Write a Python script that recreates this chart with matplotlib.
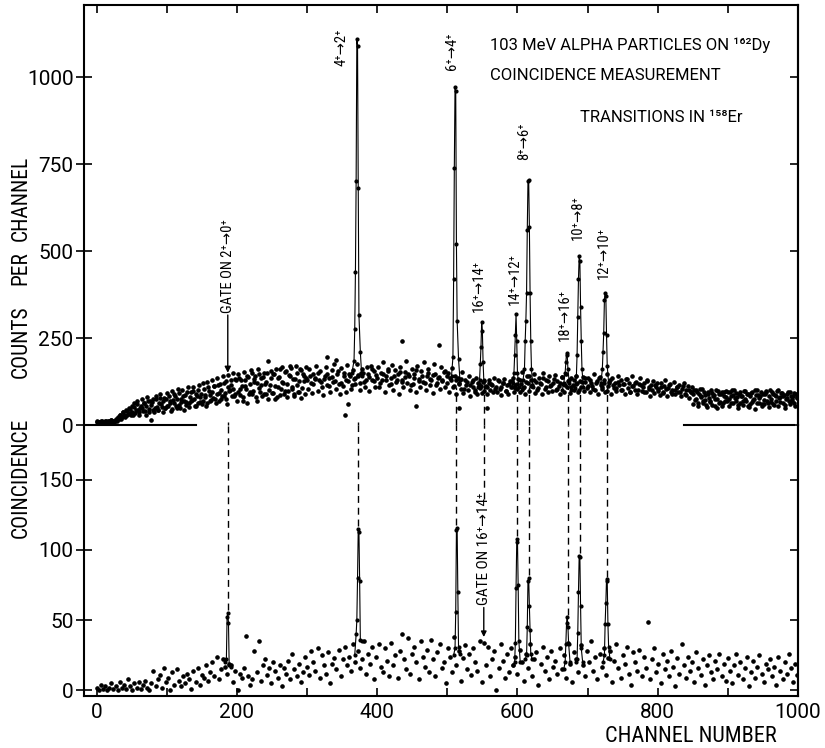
import numpy as np
import matplotlib
matplotlib.use('Agg')
import matplotlib.pyplot as plt

# ---------------- data ----------------
# top panel background, odd channels 1,3,5,...,999
top_bg_odd = [
    11,9,10,12,8,10,11,9,12,10,14,11,9,16,12,24,30,18,36,28,22,40,32,46,30,
    38,52,34,60,44,30,56,48,64,40,54,70,36,58,66,44,50,74,42,62,78,52,68,48,76,
    54,82,64,46,72,88,56,76,92,50,66,84,70,58,94,62,80,68,98,74,56,84,100,66,90,
    70,104,80,62,108,86,72,96,112,76,88,116,68,100,84,120,92,74,110,98,128,82,104,90,130,
    94,136,86,112,70,128,104,142,90,118,150,98,132,80,122,146,96,114,138,88,124,150,76,116,134,
    92,148,112,80,136,160,104,124,88,152,118,98,140,164,110,84,132,150,96,126,158,106,142,90,136,
    104,162,120,92,146,132,170,98,128,154,110,86,140,168,116,134,96,158,124,176,104,146,118,90,164,
    112,150,96,172,126,142,104,158,132,118,176,140,100,150,160,124,110,166,146,98,170,128,154,110,144,
    166,108,150,128,180,96,142,160,114,136,172,102,158,124,146,90,168,130,110,152,184,120,140,100,162,
    118,146,96,170,132,108,156,124,180,100,140,162,114,130,92,174,148,120,136,104,166,126,152,110,140,
    150,96,128,164,112,140,88,136,120,104,152,92,130,116,100,142,84,124,110,96,134,88,118,106,92,
    124,98,112,88,130,102,118,94,136,110,96,126,104,86,120,132,98,114,90,126,108,134,96,116,104,
    132,96,118,152,108,88,140,122,98,130,114,146,92,124,106,136,118,88,150,104,128,96,140,112,98,
    120,144,100,126,112,90,138,118,96,146,108,128,92,134,114,100,142,120,94,126,110,138,98,124,106,
    134,96,120,112,148,100,126,90,138,116,104,130,94,146,112,124,88,136,106,120,98,142,114,128,100,
    118,90,132,106,120,96,140,112,100,124,88,118,136,98,110,122,94,130,104,84,116,126,92,110,120,
    104,86,120,96,112,130,82,106,118,94,100,124,88,110,96,116,84,104,120,90,100,112,78,96,108,
    88,72,100,64,90,80,104,70,86,58,96,78,68,92,84,56,100,76,88,66,94,62,82,98,70,
    76,96,62,86,100,70,80,58,94,84,68,98,74,88,56,82,92,66,76,100,64,86,78,94,60,
    72,88,98,64,82,74,94,60,86,70,100,78,66,92,84,58,76,90,68,96,74,82,62,88,78,
]
# top panel background, even channels 0,2,...,298
top_bg_left = [
    8,10,9,11,10,9,12,10,11,9,13,12,10,11,14,20,16,30,22,36,26,44,30,50,34,
    56,30,64,42,70,36,48,76,40,62,28,80,46,68,15,74,38,84,52,44,88,60,36,78,50,
    92,54,70,40,98,62,84,48,104,58,76,100,44,86,66,108,52,94,72,110,56,90,64,116,80,
    60,120,86,54,124,98,70,130,78,112,64,136,92,118,74,140,84,126,60,144,100,116,150,82,132,
    70,146,104,128,80,152,112,64,138,96,158,88,124,142,70,160,106,134,84,150,118,90,185,100,156,
    92,148,76,162,110,138,86,166,120,98,154,80,144,170,104,132,88,170,116,96,160,78,148,126,168,
]
# top panel background, channels 300,304,...,848
top_bg_mid = [
    128,142,118,136,150,124,132,146,112,138,126,154,120,140,130,148,116,134,144,122,150,128,138,160,126,
    136,120,148,130,156,118,142,128,152,124,138,146,114,134,158,126,140,122,150,132,144,116,138,128,154,
    122,136,110,128,118,132,104,124,114,130,100,120,112,126,108,122,116,104,128,110,120,98,118,126,106,
    118,130,106,124,140,112,128,100,122,136,110,126,116,132,104,120,138,114,126,108,130,118,102,124,134,
    112,128,104,122,136,110,120,98,130,116,106,124,100,118,132,94,112,122,102,116,96,126,108,100,114,
    98,110,92,104,116,88,100,108,94,112,86,102,96,
]
# top panel background, even channels 850,852,...,998
top_bg_right = [
    60,100,76,94,56,104,84,62,96,72,52,90,66,102,58,86,74,48,98,64,90,56,94,70,80,
    96,54,82,100,62,78,92,50,90,64,84,58,98,68,88,52,60,94,72,46,86,100,62,82,56,
    88,60,96,70,52,100,66,90,58,82,98,54,80,92,64,86,50,78,96,60,84,70,92,56,80,
]
# isolated outlying points of the top panel
top_outlier_channels = [328, 342, 354, 358, 436, 456, 488, 516, 556]
top_outlier_counts = [196, 186, 30, 60, 240, 55, 230, 50, 48]

# bottom panel background counts, channels 0,3,6,...,999
bot_bg = [
    2,0,4,1,3,0,2,5,1,3,0,6,2,4,1,8,3,0,5,2,
    6,1,4,7,2,0,5,14,3,8,11,2,16,6,9,0,13,4,15,7,
    3,10,5,12,8,1,14,6,16,4,11,9,18,7,13,20,10,24,8,15,
    22,17,12,19,18,6,14,0,12,9,16,39,10,4,8,28,13,35,7,18,
    22,11,16,5,20,14,9,18,3,16,12,21,8,26,15,10,19,6,13,24,
    17,11,28,20,14,30,9,25,18,12,27,5,19,23,15,29,10,22,31,18,
    24,14,33,20,28,16,22,35,12,26,19,31,8,24,33,17,13,30,21,10,
    34,18,25,9,28,40,22,15,37,12,26,31,20,8,35,24,17,29,13,36,
    22,10,27,33,16,20,5,30,24,13,38,18,28,7,23,32,15,26,11,30,
    20,14,35,6,34,18,31,10,22,28,0,16,33,21,9,26,13,30,18,24,
    12,29,20,7,26,16,33,10,22,27,4,19,31,14,24,8,28,17,21,12,
    30,15,25,9,34,19,6,27,22,13,32,18,10,28,20,35,14,24,8,26,
    17,30,11,23,28,6,21,33,16,9,25,19,31,12,4,27,20,14,29,10,
    24,16,49,8,22,30,13,19,5,26,15,21,10,28,17,3,23,12,33,18,
    9,24,14,20,6,27,16,11,22,4,18,25,13,8,21,15,26,10,19,7,
    23,14,5,18,26,11,20,8,16,24,3,13,21,9,17,25,12,6,19,15,
    22,10,17,4,24,14,8,20,12,26,16,6,19,11,
]

top_peak_channels = [
    [364,367,368,369,370,371,372,373,374,376,378],
    [506,508,509,510,511,512,513,514,516,518],
    [544,546,547,548,549,550,551,552,554],
    [592,594,595,596,597,598,599,600,602],
    [606,608,610,611,612,613,614,615,616,617,618,619,620,622],
    [664,666,668,669,670,671,672,674,676],
    [682,684,685,686,687,688,689,690,691,692,694],
    [719,721,722,723,724,725,726,727,728,730],
]
top_peak_counts = [
    [150,185,275,440,700,1110,1090,680,315,210,140],
    [140,195,420,740,970,960,520,300,190,130],
    [110,130,175,225,296,270,180,130,110],
    [110,120,150,200,260,318,240,150,110],
    [100,130,160,240,300,380,560,700,705,570,380,240,160,110],
    [100,120,150,180,207,200,160,120,100],
    [105,140,200,310,420,485,470,340,240,160,110],
    [120,160,210,265,360,380,370,260,170,120],
]
top_peak_labels = ['4⁺→2⁺', '6⁺→4⁺', '16⁺→14⁺', '14⁺→12⁺', '8⁺→6⁺',
                   '18⁺→16⁺', '10⁺→8⁺', '12⁺→10⁺']

bot_peak_channels = [
    [183,185,186,187,188,189,191],
    [368,370,371,372,373,374,375,376,378],
    [509,511,512,513,514,515,516,518],
    [594,596,597,598,599,600,601,602,604],
    [611,613,614,615,616,617,618,619,621],
    [666,668,669,670,671,672,673,675],
    [683,685,686,687,688,689,690,691,693],
    [722,724,725,726,727,728,729,730,732],
]
bot_peak_counts = [
    [20,22,52,55,48,18,17],
    [25,40,50,80,115,113,78,36,35],
    [25,30,56,114,116,70,31,26],
    [18,20,34,73,106,108,75,35,20],
    [22,25,45,78,80,60,43,26,22],
    [15,20,33,48,52,45,33,20],
    [20,22,41,70,96,95,60,30,20],
    [20,25,47,62,79,78,47,31,22],
]

gate_channels = [187, 373, 513, 552, 599, 616, 672, 689, 727]
gate_top_start = [8, 8, 110, 110, 110, 110, 110, 110, 110]
gate_bot_end = [57, 117, 118, 136, 110, 82, 54, 98, 81]

ylabel_words = ['CHANNEL', 'PER', 'COUNTS', 'COINCIDENCE']

# ---------------- layout ----------------
REG = ['Roboto', 'DejaVu Sans']
COND = ['Roboto Condensed', 'DejaVu Sans']
plt.rcParams['font.family'] = REG

W, H = 825, 748
fig = plt.figure(figsize=(W/100, H/100), dpi=100)
left, right = 84/W, 798/W
y_mid = 1 - 425/H
ax_bot = fig.add_axes([left, 1 - 696/H, right - left, y_mid - (1 - 696/H)])
ax_top = fig.add_axes([left, y_mid, right - left, (1 - 5/H) - y_mid], sharex=ax_bot)

XLIM = (-18, 995)
TOP_YLIM = (0, 1207)
BOT_YLIM = (-4, 189)

dots = dict(ls='none', marker='o', ms=2.3, color='k', mec='k')
lk = dict(color='k', lw=0.8, marker='o', ms=2.0)

ax_top.plot(2*np.arange(len(top_bg_odd)) + 1, top_bg_odd, **dots)
ax_top.plot(2*np.arange(len(top_bg_left)), top_bg_left, **dots)
ax_top.plot(300 + 4*np.arange(len(top_bg_mid)), top_bg_mid, **dots)
ax_top.plot(850 + 2*np.arange(len(top_bg_right)), top_bg_right, **dots)
ax_top.plot(top_outlier_channels, top_outlier_counts, **dots)
ax_bot.plot(3*np.arange(len(bot_bg)), bot_bg, **dots)

for ch, ct in zip(top_peak_channels, top_peak_counts):
    ax_top.plot(ch, ct, **lk)
for ch, ct in zip(bot_peak_channels, bot_peak_counts):
    ax_bot.plot(ch, ct, **lk)

# dashed connection lines
dash = dict(color='k', lw=1.0, ls=(0, (5, 3.5)), clip_on=False)
for ch, s, e in zip(gate_channels, gate_top_start, gate_bot_end):
    ax_bot.plot([ch, ch], [e, BOT_YLIM[1]], **dash)
    ax_top.plot([ch, ch], [0, s], **dash)

# transition labels
label_pos = [(349, 1086), (507, 1075), (545, 400), (596, 420), (610, 816),
             (668, 316), (686, 595), (723, 494)]
for lab, (x, y) in zip(top_peak_labels, label_pos):
    ax_top.text(x, y, lab, rotation=90, ha='center', va='center', fontsize=10.5,
                family=COND)

# gate annotations
ax_top.text(187, 322, 'GATE ON 2⁺→0⁺', rotation=90, ha='center', va='bottom',
            fontsize=10.5, family=COND)
ax_top.annotate('', xy=(187, 150), xytext=(187, 316),
                arrowprops=dict(arrowstyle='-|>', color='k', lw=1, mutation_scale=9,
                                shrinkA=0, shrinkB=0))
ax_bot.text(552, 61, 'GATE ON 16⁺→14⁺', rotation=90, ha='center', va='bottom',
            fontsize=11, family=COND)
ax_bot.annotate('', xy=(552, 38), xytext=(552, 59),
                arrowprops=dict(arrowstyle='-|>', color='k', lw=1, mutation_scale=8,
                                shrinkA=0, shrinkB=0))

# titles
fig.text(490/W, 1 - 45/H, '103 MeV ALPHA PARTICLES ON ¹⁶²Dy', ha='left', va='center',
         fontsize=12)
fig.text(490/W, 1 - 75/H, 'COINCIDENCE MEASUREMENT', ha='left', va='center', fontsize=12)
fig.text(580/W, 1 - 117/H, 'TRANSITIONS IN ¹⁵⁸Er', ha='left', va='center', fontsize=12)

# y label as spaced words
ylabel_centers = [198, 268, 342, 478]
for word, yc in zip(ylabel_words, ylabel_centers):
    fig.text(21/W, 1 - yc/H, word, rotation=90, ha='center', va='center', fontsize=15.5,
             family=COND)
fig.text(691/W, 1 - 736/H, 'CHANNEL NUMBER', ha='center', va='center', fontsize=16,
         family=COND)

# ---------------- axes styling ----------------
for ax in (ax_top, ax_bot):
    ax.set_xlim(*XLIM)
    for s in ax.spines.values():
        s.set_linewidth(1.5)
ax_top.set_ylim(*TOP_YLIM)
ax_bot.set_ylim(*BOT_YLIM)

ax_top.spines['bottom'].set_visible(False)
ax_bot.spines['top'].set_visible(False)
ax_top.plot([XLIM[0], 142], [0, 0], color='k', lw=1.5, clip_on=False)
ax_top.plot([838, XLIM[1]], [0, 0], color='k', lw=1.5, clip_on=False)

ax_top.set_yticks([0, 250, 500, 750, 1000])
ax_bot.set_yticks([0, 50, 100, 150])
for ax in (ax_top, ax_bot):
    ax.tick_params(axis='y', direction='inout', length=11, width=1.2, labelsize=15, pad=2,
                   right=False)
    sec = ax.secondary_yaxis('right')
    sec.set_yticks(ax.get_yticks())
    sec.tick_params(direction='in', length=6, width=1.2, labelright=False)
    sec.spines['right'].set_linewidth(1.5)

ax_top.set_xticks(range(100, 1000, 100))
ax_top.tick_params(axis='x', which='both', top=True, bottom=False, direction='in',
                   length=6, width=1.2, labelbottom=False)
ax_bot.set_xticks(range(0, 1001, 200))
ax_bot.set_xticks(range(100, 1000, 200), minor=True)
ax_bot.tick_params(axis='x', which='both', direction='in', length=6, width=1.2,
                   labelsize=15, pad=5, top=False)
ax_top.tick_params(axis='x', top=True, labeltop=False, bottom=False, labelbottom=False)

fig.savefig('out.png', dpi=100, facecolor='white')
